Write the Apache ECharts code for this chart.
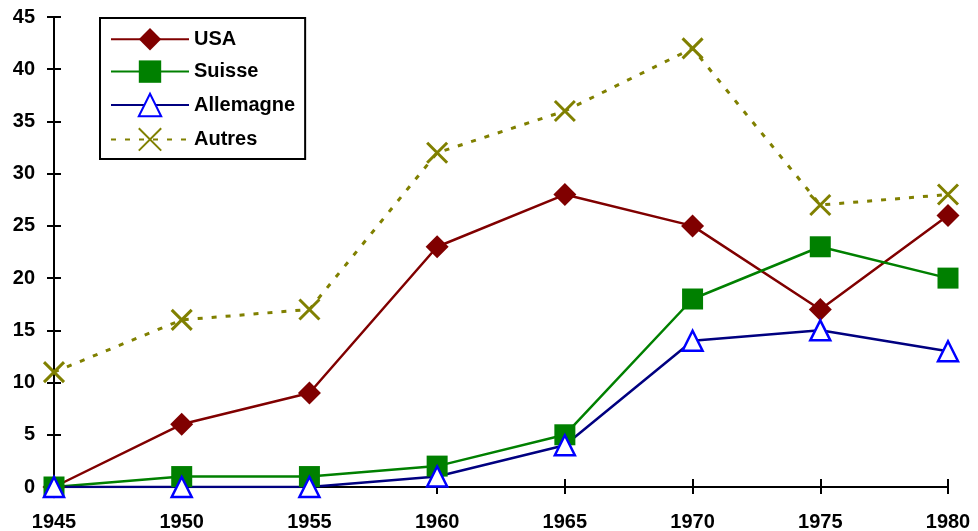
<!DOCTYPE html>
<html>
<head>
<meta charset="utf-8">
<script src="https://cdn.jsdelivr.net/npm/echarts@6/dist/echarts.min.js"></script>
<style>
html,body{margin:0;padding:0;background:#fff;}
#chart{width:978px;height:531px;}
</style>
</head>
<body>
<div id="chart"></div>
<script>
const years = ['1945','1950','1955','1960','1965','1970','1975','1980'];
const usa = [0, 6, 9, 23, 28, 25, 17, 26];
const suisse = [0, 1, 1, 2, 5, 18, 23, 20];
const allemagne = [0, 0, 0, 1, 4, 14, 15, 13];
const autres = [11, 16, 17, 32, 36, 42, 27, 28];
const seriesNames = ['USA', 'Suisse', 'Allemagne', 'Autres'];

const font = 'Liberation Sans, Arial, sans-serif';
const chart = echarts.init(document.getElementById('chart'), null, {renderer: 'canvas'});
const axisLineStyle = {color: '#000', width: 2};
const option = {
  animation: false,
  backgroundColor: '#fff',
  grid: {left: 54, right: 30, top: 17, bottom: 44, containLabel: false, outerBoundsMode: 'none'},
  legend: {
    left: 100, top: 18,
    orient: 'vertical',
    padding: [10, 10, 7.5, 10],
    itemWidth: 78, itemHeight: 28, itemGap: 10,
    borderColor: '#000', borderWidth: 2,
    backgroundColor: '#fff',
    textStyle: {fontFamily: font, fontSize: 20, fontWeight: 'bold', color: '#000'},
    data: seriesNames
  },
  xAxis: [{
    type: 'category', data: years, boundaryGap: false, position: 'bottom',
    axisLine: {lineStyle: axisLineStyle},
    axisTick: {show: true, length: 7, lineStyle: {color: '#000', width: 2}, alignWithLabel: true},
    axisLabel: {fontFamily: font, fontSize: 20, fontWeight: 'bold', color: '#000', margin: 25},
    splitLine: {show: false}
  }, {
    type: 'category', data: years, boundaryGap: false, position: 'bottom',
    axisLine: {show: false},
    axisTick: {show: true, inside: true, length: 8, lineStyle: {color: '#000', width: 2}},
    axisLabel: {show: false},
    splitLine: {show: false}
  }],
  yAxis: [{
    type: 'value', min: 0, max: 45, interval: 5, position: 'left',
    axisLine: {show: true, lineStyle: axisLineStyle},
    axisTick: {show: true, length: 7, lineStyle: {color: '#000', width: 2}},
    axisLabel: {fontFamily: font, fontSize: 20, fontWeight: 'bold', color: '#000', margin: 19},
    splitLine: {show: false}
  }, {
    type: 'value', min: 0, max: 45, interval: 5, position: 'left',
    axisLine: {show: false},
    axisTick: {show: true, inside: true, length: 7, lineStyle: {color: '#000', width: 2}},
    axisLabel: {show: false},
    splitLine: {show: false}
  }],
  series: [{
    name: 'USA', type: 'line', data: usa,
    symbol: 'diamond', symbolSize: 23, showAllSymbol: true,
    lineStyle: {color: '#800000', width: 2.5},
    itemStyle: {color: '#800000'}
  }, {
    name: 'Suisse', type: 'line', data: suisse,
    symbol: 'rect', symbolSize: 21,
    lineStyle: {color: '#008000', width: 2.5},
    itemStyle: {color: '#008000'}
  }, {
    name: 'Allemagne', type: 'line', data: allemagne,
    symbol: 'triangle', symbolSize: [20, 20],
    lineStyle: {color: '#000080', width: 2.5},
    itemStyle: {color: '#ffffff', borderColor: '#0000ff', borderWidth: 2.5}
  }, {
    name: 'Autres', type: 'line', data: autres,
    symbol: 'path://M0,0L10,10M10,0L0,10', symbolSize: 20,
    lineStyle: {color: '#808000', width: 3, type: [5, 9]},
    itemStyle: {color: 'rgba(0,0,0,0)', borderColor: '#808000', borderWidth: 3}
  }]
};
chart.setOption(option);
</script>
</body>
</html>
